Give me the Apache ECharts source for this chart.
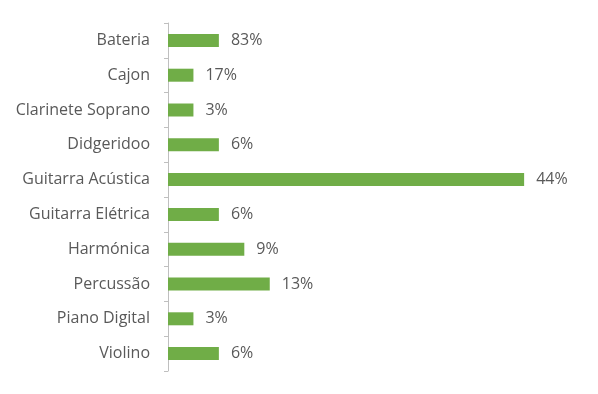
<!DOCTYPE html>
<html><head><meta charset="utf-8">
<script src="https://cdn.jsdelivr.net/npm/echarts@6/dist/echarts.min.js"></script>
<style>html,body{margin:0;padding:0;background:#fff}#c{width:598px;height:394px}</style>
</head><body><div id="c"></div>
<script>
const categories = ['Bateria','Cajon','Clarinete Soprano','Didgeridoo','Guitarra Acústica','Guitarra Elétrica','Harmónica','Percussão','Piano Digital','Violino'];
const values = [2,1,1,2,14,2,3,4,1,2];
const valueLabels = ['83%','17%','3%','6%','44%','6%','9%','13%','3%','6%'];

const chart = echarts.init(document.getElementById('c'));
chart.setOption({
  animation:false,
  grid:{left:168,top:23,width:407,height:348,containLabel:false},
  xAxis:{type:'value',min:0,max:16,show:false},
  yAxis:{type:'category',data:categories,inverse:true,
    axisLine:{show:true,lineStyle:{color:'#BFBFBF',width:1}},
    axisTick:{show:true,length:4,lineStyle:{color:'#BFBFBF'}},
    axisLabel:{color:'#595959',fontSize:16,fontFamily:'Open Sans',margin:18},
    splitLine:{show:false}},
  series:[{type:'bar',data:values,barWidth:13,
    itemStyle:{color:'#70AD47'},
    label:{show:true,position:'right',distance:12,color:'#595959',fontSize:16,fontFamily:'Open Sans',
      formatter:p=>valueLabels[p.dataIndex]}}]
});
</script></body></html>
